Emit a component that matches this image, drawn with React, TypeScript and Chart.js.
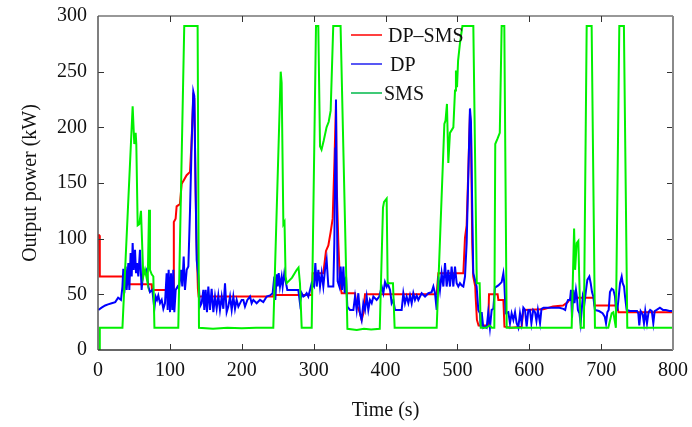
import React, { useEffect, useRef } from "react";
import { Chart, registerables } from "chart.js";

Chart.register(...registerables);

// Axis ticks
const timeTicks = [0, 100, 200, 300, 400, 500, 600, 700, 800];
const powerTicks = [0, 50, 100, 150, 200, 250, 300];

// Legend labels
const seriesNames = ["DP\u2013SMS", "DP", "SMS"];

// SMS series: [time (s), power (kW)]
const smsSeries: [number, number][] = [
  [0, 0], [1.5, 0], [2.5, 20], [34, 20], [48.2, 219], [50.5, 185], [52.4, 195], [53.3, 185],
  [55.2, 112], [57.5, 113], [59.8, 125], [63, 66], [65.4, 72], [69.1, 60], [71, 126], [72.3, 72],
  [74.7, 68], [77, 66], [78.5, 20], [111.7, 20], [120, 291], [138.6, 291], [140.5, 20], [160, 19],
  [180, 20], [200, 19.5], [220, 20], [243.9, 20], [254.2, 250], [255.5, 240], [257.9, 113],
  [259.5, 115], [261, 66], [262.5, 60], [270, 65], [276.5, 72], [279, 74], [281, 60], [283.4, 20],
  [297.3, 20], [303.3, 291], [306.5, 291], [308.9, 183], [311, 180], [314, 188], [318, 200],
  [321, 205], [323.7, 215], [327.3, 291], [337.5, 291], [347, 19], [360, 18], [370, 19], [380, 18.5],
  [392, 19], [396.5, 128], [398, 133], [401.6, 136], [403, 60], [410.4, 60], [412.7, 20], [471.2, 20],
  [481.9, 203], [483.5, 206], [485.5, 221], [487.4, 168], [489.7, 195], [494.4, 200], [496.7, 233],
  [498, 251], [499.5, 236], [501, 260], [503.5, 275], [507, 291], [522.2, 291], [527, 60], [531, 60],
  [532.5, 20], [540, 20], [545, 22], [548, 20], [551.4, 20], [552.7, 185], [556, 190], [559, 195],
  [561.6, 291], [565.3, 291], [568.6, 20], [659, 20], [662.4, 109], [663.8, 72], [666, 96],
  [668.3, 98], [669.5, 66], [671.5, 20], [676, 20], [679.9, 291], [686.8, 291], [691.4, 20],
  [710, 20], [714.7, 33], [717, 34], [720.5, 20], [725.3, 291], [731.7, 291], [736.4, 20], [800, 20],
];

// DP series
const dpSeries: [number, number][] = [
  [0.5, 36], [5, 38], [10, 40], [14, 41], [19, 42], [24, 43], [28, 47], [32, 45], [34, 57], [35.2, 73],
  [36.6, 51], [38.5, 75], [39.9, 54], [42.2, 78], [43.6, 54], [45.4, 87], [46.9, 66], [48.2, 96],
  [49.6, 72], [51.5, 90], [52.9, 69], [54.3, 78], [56.1, 66], [58.4, 90], [60.7, 54], [63.1, 72],
  [65.4, 69], [67.7, 72], [70, 57], [72.3, 52], [75.6, 54], [78.4, 37], [80.2, 48], [82.1, 45],
  [83.9, 49], [86.3, 42], [88.6, 45], [90.9, 37], [93.2, 42], [95.5, 69], [96.9, 36], [98.3, 72],
  [100.2, 34], [101.6, 69], [103.4, 36], [104.8, 72], [106.2, 34], [108.1, 54], [110.8, 57],
  [112.7, 55], [115.5, 72], [117.3, 57], [119.2, 84], [121, 54], [123.4, 72], [125.7, 75], [128, 125],
  [130.3, 185], [132.6, 232], [134, 228], [135.9, 141], [137.3, 81], [139.6, 66], [141.9, 39],
  [144.2, 42], [146.6, 54], [147.9, 36], [149.8, 54], [151.6, 34], [153.5, 57], [155.8, 36],
  [158.1, 55], [160.5, 34], [162.8, 48], [165.1, 37], [167.4, 49], [169.7, 36], [172.1, 48],
  [174.4, 37], [176.7, 60], [179, 34], [181.3, 39], [183.7, 48], [186, 36], [188.3, 48], [190.6, 37],
  [192.9, 45], [195.3, 39], [199.9, 45], [202.2, 45], [204.5, 39], [207.8, 45], [211.5, 48],
  [213.8, 42], [216.1, 45], [220.7, 42], [225.4, 45], [230, 43], [234.7, 48], [239.3, 49], [243, 51],
  [245.3, 66], [246.7, 45], [248.6, 68], [250, 57], [251.4, 69], [253.2, 57], [255.5, 66], [256.9, 57],
  [259.2, 69], [261.6, 60], [263.4, 54], [267.1, 54], [271.8, 54], [278.7, 54], [281, 42], [283.4, 51],
  [285.7, 48], [288, 49], [290.3, 51], [292.6, 48], [295, 54], [297.3, 60], [300.5, 57], [302.4, 78],
  [304.3, 57], [306.6, 72], [308.9, 57], [311.2, 69], [313.5, 57], [315.8, 72], [318.1, 81],
  [320.5, 57], [325.1, 57], [327.4, 57], [328.8, 96], [330.2, 181], [331.1, 225], [332, 152],
  [333.4, 62], [335.8, 57], [337.6, 75], [339.5, 54], [341.4, 75], [343.2, 51], [345.1, 66],
  [346.9, 39], [350.6, 36], [355.3, 36], [357.6, 48], [359.9, 36], [362.2, 51], [364.5, 33],
  [366.8, 27], [369.2, 42], [371.5, 36], [373.8, 48], [376.1, 36], [378.4, 45], [380.8, 42],
  [383.1, 48], [387.7, 45], [391.4, 48], [394.7, 57], [397, 51], [399.3, 61], [401.6, 57], [403, 60],
  [406.3, 54], [408.6, 42], [410.9, 45], [413.2, 36], [417.8, 36], [422.5, 36], [424.8, 51],
  [427.1, 42], [429.4, 48], [431.8, 42], [434.1, 49], [436.4, 42], [438.7, 51], [441, 45], [443.4, 49],
  [445.7, 45], [450.3, 51], [455, 48], [459.6, 51], [464.2, 52], [466.6, 57], [468.9, 51], [471.2, 36],
  [473.5, 66], [475.8, 54], [478.1, 69], [480.5, 57], [482.8, 78], [485.1, 57], [487.4, 72],
  [489.7, 57], [492, 75], [494.4, 57], [496.7, 75], [499, 60], [501.3, 57], [503.6, 60], [506, 58],
  [508.3, 57], [510.6, 66], [512.9, 96], [515.2, 156], [517.5, 217], [518.9, 205], [520.7, 126],
  [522.1, 69], [524.5, 63], [526.8, 57], [529.1, 36], [531.4, 33], [532.4, 21], [533.8, 34],
  [536.1, 20], [538.4, 21], [540.7, 20], [543, 34], [545.3, 20], [547.7, 36], [550, 37], [552.3, 56],
  [557, 58], [561.6, 61], [564, 69], [565.3, 60], [567.2, 33], [570.9, 34], [573.2, 24], [575.5, 33],
  [577.9, 27], [580.2, 34], [582.5, 24], [584.8, 20], [587.1, 33], [589.4, 24], [591.8, 38],
  [594.1, 36], [596.4, 21], [598.7, 36], [601, 36], [603, 24], [605.5, 36], [608, 34], [610, 26],
  [612, 36], [615, 24], [617, 37], [620, 38], [624.2, 38], [633, 38], [642, 38], [647.4, 37],
  [650, 36], [652, 42], [654, 45], [656.7, 45], [658.1, 54], [659.5, 29], [661.4, 54], [663, 42],
  [665, 54], [666.3, 48], [667.7, 36], [669.8, 33], [671.5, 24], [673, 36], [674.5, 48], [676.8, 42],
  [679, 54], [680.8, 63], [683.6, 66], [685.5, 60], [687.3, 52], [689.1, 48], [691.4, 36], [697, 35],
  [702, 33], [705, 30], [706.8, 24], [708.7, 34], [710.5, 36], [712.3, 52], [714.7, 55], [717, 54],
  [719.3, 48], [720.7, 36], [722.6, 36], [724.5, 48], [726.3, 60], [728.6, 66], [730, 60],
  [731.9, 57], [733.3, 48], [735.5, 36], [740, 35], [745, 35], [750, 35], [751.7, 33], [753.1, 22],
  [755, 35], [757.8, 32], [759.6, 24], [761.4, 35], [763.8, 24], [766, 34], [768.2, 36], [770.5, 35],
  [772.6, 24], [774.5, 35], [777.3, 36], [781.8, 38], [786, 36], [790, 36], [795, 35], [800, 35],
];

// DP-SMS series
const dpSmsSeries: [number, number][] = [
  [0, 103], [1.5, 103], [2.5, 66], [35.3, 66], [35.5, 59], [74.6, 59], [75, 54], [104.4, 54],
  [105.5, 115], [108, 118], [109.4, 129], [114, 131], [116.4, 149], [118, 151], [123.3, 157],
  [128, 160], [130, 185], [132.6, 228], [134, 226], [135.9, 140], [137, 100], [139, 55], [140, 48],
  [243.9, 48], [244, 49.5], [297.3, 49.5], [298.7, 69], [313.5, 69], [317.2, 89], [320.5, 94],
  [323.7, 106], [326.5, 118], [329, 170], [331.1, 222], [332, 150], [334.4, 96], [336.7, 60],
  [339, 51], [357.6, 51], [359, 43], [364.5, 33], [366.8, 27], [369.2, 33], [371.5, 50], [471.2, 50],
  [473.5, 69], [508.3, 69], [510.6, 101], [512.9, 112], [515.2, 161], [517.5, 212], [518.9, 200],
  [520.7, 96], [522.1, 66], [524.9, 57], [525.5, 47], [527.2, 27], [529.5, 22], [543, 22], [544, 50],
  [556, 50], [557, 45], [564, 45], [565.5, 21], [575, 20], [589.4, 21], [591.7, 36], [619.6, 36.5],
  [633, 39], [647, 40], [653.8, 43], [657, 46], [659.7, 47], [690, 47], [691, 40], [722, 40],
  [724.2, 34], [800, 34],
];

const FONT = '"Liberation Serif", "Times New Roman", serif';

const framePlugin = {
  id: "frameAndLegend",
  afterDraw(chart: any) {
    const { ctx, chartArea: a, scales } = chart;
    const xs = scales.x;
    const ys = scales.y;
    ctx.save();
    // inward tick marks
    ctx.strokeStyle = "#333";
    ctx.lineWidth = 1;
    const tl = 6;
    for (const v of timeTicks) {
      if (v === timeTicks[0] || v === timeTicks[timeTicks.length - 1]) continue;
      const px = Math.round(xs.getPixelForValue(v)) + 0.5;
      ctx.beginPath();
      ctx.moveTo(px, a.bottom);
      ctx.lineTo(px, a.bottom - tl);
      ctx.moveTo(px, a.top);
      ctx.lineTo(px, a.top + tl);
      ctx.stroke();
    }
    for (const v of powerTicks) {
      if (v === powerTicks[0] || v === powerTicks[powerTicks.length - 1]) continue;
      const py = Math.round(ys.getPixelForValue(v)) + 0.5;
      ctx.beginPath();
      ctx.moveTo(a.left, py);
      ctx.lineTo(a.left + tl, py);
      ctx.moveTo(a.right, py);
      ctx.lineTo(a.right - tl, py);
      ctx.stroke();
    }
    // frame
    const seg = (x1: number, y1: number, x2: number, y2: number, c: string, w: number) => {
      ctx.strokeStyle = c;
      ctx.lineWidth = w;
      ctx.beginPath();
      ctx.moveTo(x1, y1);
      ctx.lineTo(x2, y2);
      ctx.stroke();
    };
    seg(a.left, a.top, a.right, a.top, "#333", 1.2);
    seg(a.left, a.bottom, a.right, a.bottom, "#333", 1.5);
    seg(a.left, a.top, a.left, a.bottom, "#555", 1.5);
    seg(a.right, a.top, a.right, a.bottom, "#8a8a8a", 2);

    // legend
    const legend = [
      { name: seriesNames[0], color: "#ff0000", y: 35, tx: 388 },
      { name: seriesNames[1], color: "#2020f0", y: 64, tx: 390 },
      { name: seriesNames[2], color: "#00b84a", y: 93, tx: 384 },
    ];
    ctx.font = `20px ${FONT}`;
    ctx.textBaseline = "middle";
    ctx.textAlign = "left";
    for (const l of legend) {
      seg(351, l.y, 382, l.y, l.color, 1.5);
      ctx.fillStyle = "#111";
      ctx.fillText(l.name, l.tx, l.y + 1.5);
    }
    ctx.restore();
  },
};

export default function App() {
  const ref = useRef<HTMLCanvasElement | null>(null);
  useEffect(() => {
    if (!ref.current) return;
    Chart.defaults.font.family = FONT;
    Chart.defaults.font.size = 20;
    Chart.defaults.color = "#111";
    const toXY = (s: [number, number][]) => s.map(([x, y]) => ({ x, y }));
    const chart = new Chart(ref.current, {
      type: "line",
      data: {
        datasets: [
          {
            label: seriesNames[0],
            data: toXY(dpSmsSeries),
            borderColor: "#ff0000",
            borderWidth: 2,
            pointRadius: 0,
            tension: 0,
            order: 2,
          },
          {
            label: seriesNames[1],
            data: toXY(dpSeries),
            borderColor: "#0000ff",
            borderWidth: 2,
            pointRadius: 0,
            tension: 0,
            order: 1,
          },
          {
            label: seriesNames[2],
            data: toXY(smsSeries),
            borderColor: "#00f000",
            borderWidth: 2,
            pointRadius: 0,
            tension: 0,
            order: 0,
          },
        ],
      },
      options: {
        animation: false,
        responsive: false,
        devicePixelRatio: 1,
        layout: { padding: { top: 16, right: 19, left: 0, bottom: 0 } },
        plugins: { legend: { display: false }, tooltip: { enabled: false } },
        scales: {
          x: {
            type: "linear",
            min: 0,
            max: 800,
            afterFit: (s: any) => {
              s.height = 77;
              s.paddingLeft = 0;
              s.paddingRight = 0;
            },
            ticks: { stepSize: 100, padding: 9, maxRotation: 0, font: { size: 20 } },
            grid: { display: false, drawTicks: false },
            border: { display: false },
            title: { display: true, text: "Time (s)", font: { size: 20 }, padding: { top: 0, bottom: 4 } },
          },
          y: {
            type: "linear",
            min: 0,
            max: 300,
            afterFit: (s: any) => {
              s.width = 98;
              s.paddingTop = 0;
              s.paddingBottom = 0;
            },
            ticks: { stepSize: 50, padding: 11, font: { size: 20 } },
            grid: { display: false, drawTicks: false },
            border: { display: false },
            title: { display: true, text: "Output power (kW)", font: { size: 20 }, padding: { top: 19, bottom: 0 } },
          },
        },
      },
      plugins: [framePlugin],
    });
    return () => chart.destroy();
  }, []);
  return (
    <div style={{ position: "fixed", left: 0, top: 0, width: 692, height: 427, background: "#fff" }}>
      <canvas ref={ref} width={692} height={427} style={{ width: 692, height: 427, display: "block" }} />
    </div>
  );
}
